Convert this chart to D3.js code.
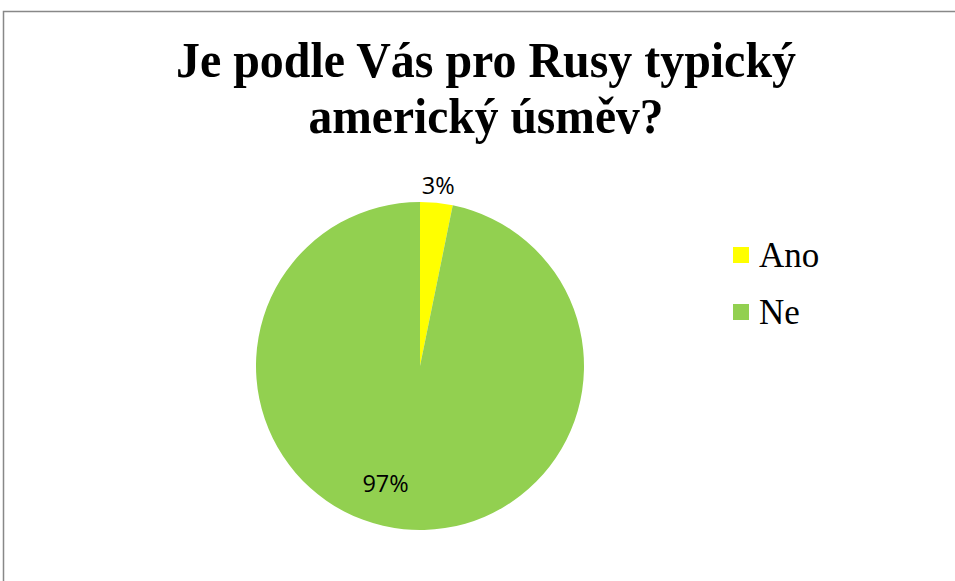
<!DOCTYPE html>
<html>
<head>
<meta charset="utf-8">
<script src="https://cdn.jsdelivr.net/npm/d3@7"></script>
<style>
  html, body { margin: 0; padding: 0; background: #fff; }
  svg { display: block; }
</style>
</head>
<body>
<svg id="chart" width="955" height="581"></svg>
<script>
const titleLines = ["Je podle Vás pro Rusy typický", "americký úsměv?"];
const categories = ["Ano", "Ne"];
const values = [3.2, 96.8];
const labels = ["3%", "97%"];
const colors = ["#FFFF00", "#92D050"];

const svg = d3.select("#chart");

// outer border
svg.append("rect")
  .attr("x", 3.5).attr("y", 11.5)
  .attr("width", 1000).attr("height", 1000)
  .attr("fill", "#fff")
  .attr("stroke", "#888").attr("stroke-width", 1.5);

// title
const title = svg.append("text")
  .attr("font-family", "'Liberation Serif', 'Times New Roman', serif")
  .attr("font-weight", "bold")
  .attr("font-size", 50)
  .attr("fill", "#000")
  .attr("text-anchor", "middle");
const titleWidths = [620, 355];
const titleBaselines = [77, 133];
titleLines.forEach((t, i) => {
  title.append("tspan")
    .attr("x", 486).attr("y", titleBaselines[i])
    .attr("textLength", titleWidths[i])
    .attr("lengthAdjust", "spacingAndGlyphs")
    .text(t);
});

// pie
const cx = 420, cy = 366, R = 164;
const pie = d3.pie().sort(null).value(d => d.v);
const data = categories.map((c, i) => ({ c, v: values[i], label: labels[i], color: colors[i] }));
const arcs = pie(data);
const arc = d3.arc().innerRadius(0).outerRadius(R);
const g = svg.append("g").attr("transform", `translate(${cx},${cy})`);
g.selectAll("path").data(arcs).join("path")
  .attr("d", arc)
  .attr("fill", d => d.data.color);

// data labels: small slice outside, large slice inside (best fit)
const outerLabelArc = d3.arc().innerRadius(R + 18).outerRadius(R + 18);
const innerLabelArc = d3.arc().innerRadius(124).outerRadius(124);
g.selectAll("text.lbl").data(arcs).join("text")
  .attr("class", "lbl")
  .attr("font-family", "'Open Sans', sans-serif")
  .attr("font-size", 23.5)
  .attr("fill", "#000")
  .attr("text-anchor", "middle")
  .attr("dominant-baseline", "central")
  .attr("transform", d => {
    const small = (d.endAngle - d.startAngle) < 0.5;
    let [x, y] = small ? outerLabelArc.centroid(d) : innerLabelArc.centroid(d);
    if (!small) { x -= 22; y -= 6; }
    return `translate(${x},${y})`;
  })
  .text(d => d.data.label);

// legend
const legend = svg.append("g");
const legItems = legend.selectAll("g").data(data).join("g")
  .attr("transform", (d, i) => `translate(733, ${247 + i * 57})`);
legItems.append("rect")
  .attr("width", 16).attr("height", 16)
  .attr("fill", d => d.color);
legItems.append("text")
  .attr("x", 26).attr("y", 20)
  .attr("font-family", "'Liberation Serif', 'Times New Roman', serif")
  .attr("font-size", 35)
  .attr("fill", "#000")
  .text(d => d.c);
</script>
</body>
</html>
